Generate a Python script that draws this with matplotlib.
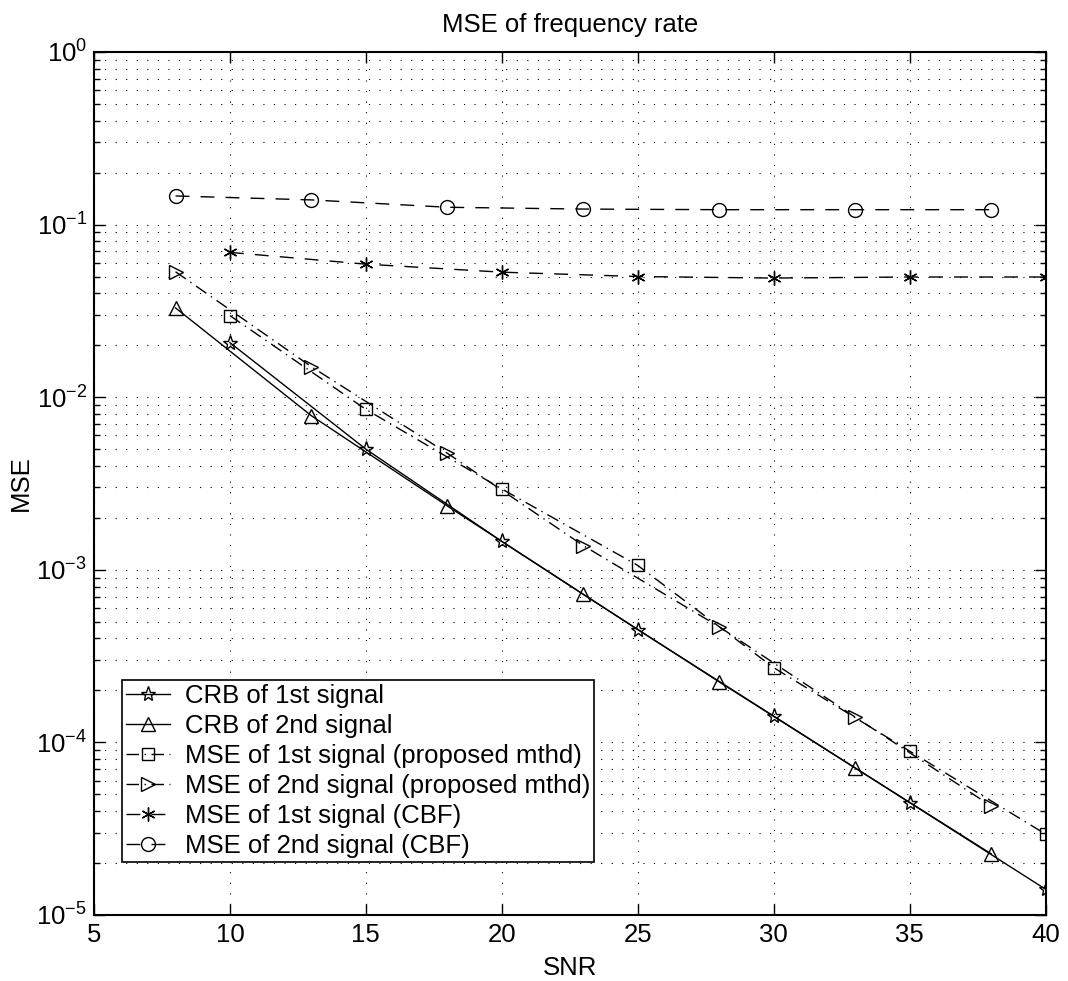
import numpy as np
import matplotlib
matplotlib.use("Agg")
import matplotlib.pyplot as plt
from matplotlib.ticker import LogLocator, NullFormatter, MultipleLocator

plt.rcParams['font.family'] = ['Liberation Sans', 'DejaVu Sans']
plt.rcParams['mathtext.fontset'] = 'custom'
plt.rcParams['mathtext.rm'] = 'Liberation Sans'
plt.rcParams['mathtext.it'] = 'Liberation Sans'

#============================================================
# data (SNR in dB, MSE of frequency rate)
#============================================================
snr_a = [10, 15, 20, 25, 30, 35, 40]
snr_b = [8, 13, 18, 23, 28, 33, 38]

crb_1st = [2.07e-2, 5.0e-3, 1.46e-3, 4.5e-4, 1.42e-4, 4.48e-5, 1.41e-5]
crb_2nd = [3.29e-2, 7.8e-3, 2.34e-3, 7.2e-4, 2.24e-4, 7.1e-5, 2.26e-5]
mse_1st_prop = [2.97e-2, 8.5e-3, 2.94e-3, 1.06e-3, 2.71e-4, 8.9e-5, 2.94e-5]
mse_2nd_prop = [5.33e-2, 1.50e-2, 4.73e-3, 1.38e-3, 4.67e-4, 1.40e-4, 4.28e-5]
mse_1st_cbf = [6.9e-2, 5.9e-2, 5.3e-2, 5.0e-2, 4.9e-2, 4.97e-2, 4.97e-2]
mse_2nd_cbf = [1.465e-1, 1.39e-1, 1.26e-1, 1.23e-1, 1.22e-1, 1.22e-1, 1.22e-1]

labels = ['CRB of 1st signal',
          'CRB of 2nd signal',
          'MSE of 1st signal (proposed mthd)',
          'MSE of 2nd signal (proposed mthd)',
          'MSE of 1st signal (CBF)',
          'MSE of 2nd signal (CBF)']

#============================================================
FS = 18.5
fig = plt.figure(figsize=(10.68, 9.81), dpi=100)
ax = fig.add_axes([0.088, 0.0673, 0.891, 0.8797])

common = dict(color='k', lw=1.0, mfc='none', mec='k', mew=1.0, ms=10)
dashdot = (0, (9, 4, 1, 4))
dashed = (0, (10, 8))
asterisk = (6, 2, 0)

ax.semilogy(snr_a, crb_1st, ls='-', marker='*', label=labels[0], **{**common, 'ms': 11})
ax.semilogy(snr_b, crb_2nd, ls='-', marker='^', label=labels[1], **common)
ax.semilogy(snr_a, mse_1st_prop, ls=dashdot, marker='s', label=labels[2],
            **{**common, 'ms': 8})
ax.semilogy(snr_b, mse_2nd_prop, ls=dashdot, marker='>', label=labels[3], **common)
ax.semilogy(snr_a, mse_1st_cbf, ls=dashed, marker=asterisk, label=labels[4], **common)
ax.semilogy(snr_b, mse_2nd_cbf, ls=dashed, marker='o', label=labels[5], **common)

ax.set_xlim(5, 40)
ax.set_ylim(1e-5, 1e0)
ax.xaxis.set_major_locator(MultipleLocator(5))
ax.yaxis.set_major_locator(LogLocator(base=10, numticks=10))
ax.yaxis.set_minor_locator(LogLocator(base=10, subs=np.arange(2, 10), numticks=20))
ax.yaxis.set_minor_formatter(NullFormatter())

# sparse dotted grid
gridstyle = dict(color='k', ls=(0, (1, 8.5)), lw=0.8)
ax.grid(True, which='major', axis='x', **gridstyle)
ax.grid(True, which='both', axis='y', **gridstyle)

ax.tick_params(which='both', direction='in', top=True, right=True,
               labelsize=FS, width=1.0)
ax.tick_params(which='major', length=8)
ax.tick_params(which='minor', length=4)
ax.tick_params(axis='x', pad=6)
ax.tick_params(axis='y', pad=5)
for s in ax.spines.values():
    s.set_linewidth(1.5)

ax.set_title('MSE of frequency rate', fontsize=FS, pad=14.5)
ax.set_xlabel('SNR', fontsize=FS, labelpad=6)
ax.set_ylabel('MSE', fontsize=FS, labelpad=2)

leg = ax.legend(loc='lower left', bbox_to_anchor=(0.0297, 0.0614), borderaxespad=0,
                fontsize=FS, fancybox=False, edgecolor='k', framealpha=1,
                handlelength=1.7, handletextpad=0.6, labelspacing=0.235,
                borderpad=0.15, numpoints=1)
leg.get_frame().set_linewidth(1.2)

fig.savefig('out.png', dpi=100)
